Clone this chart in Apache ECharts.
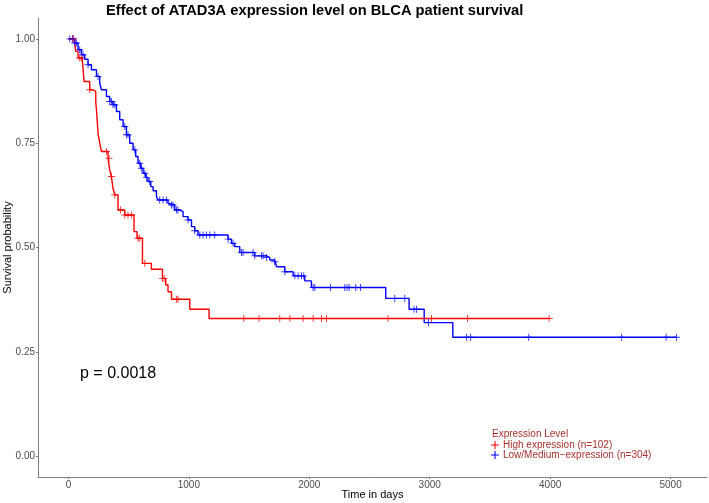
<!DOCTYPE html>
<html>
<head>
<meta charset="utf-8">
<script src="https://cdn.jsdelivr.net/npm/echarts@6/dist/echarts.min.js"></script>
<style>html,body{margin:0;padding:0;background:#fff}#c{width:709px;height:503px}</style>
</head>
<body>
<div id="c"></div>
<script>
// ---- data ----
const xTicks = [0, 1000, 2000, 3000, 4000, 5000];
const yTicks = [0, 0.25, 0.5, 0.75, 1.0];
const seriesNames = ['High expression (n=102)', 'Low/Medium\u2212expression (n=304)'];

// High expression: step times (days) and survival after each step
const highTimes = [0, 52, 61, 80, 116, 130, 177, 204, 227, 233, 246, 260, 274, 329, 343, 357, 370, 385, 412, 468, 545, 570, 615, 689, 781, 808, 827, 856, 1008, 1168, 3992];
const highSurv  = [1.0, 0.99, 0.97, 0.954, 0.948, 0.898, 0.878, 0.874, 0.85, 0.83, 0.774, 0.75, 0.73, 0.714, 0.686, 0.67, 0.642, 0.626, 0.59, 0.578, 0.538, 0.522, 0.462, 0.448, 0.426, 0.41, 0.394, 0.376, 0.352, 0.33, 0.33];
const highCensor = [33, 44, 94, 108, 177, 316, 337, 357, 385, 432, 468, 495, 523, 578, 592, 634, 781, 794, 897, 910, 1456, 1583, 1755, 1839, 1949, 2032, 2101, 2143, 2654, 3015, 3314, 3992];

// Low/Medium expression
const lowTimes = [0, 52, 80, 108, 135, 163, 191, 233, 260, 274, 316, 343, 370, 399, 426, 454, 482, 509, 537, 559, 578, 601, 620, 642, 661, 684, 703, 731, 744, 827, 841, 883, 924, 952, 993, 1022, 1049, 1076, 1326, 1354, 1381, 1423, 1547, 1645, 1672, 1713, 1728, 1797, 1866, 1963, 2018, 2635, 2829, 2954, 3192, 5050];
const lowSurv  = [1.0, 0.99, 0.974, 0.962, 0.951, 0.938, 0.926, 0.91, 0.894, 0.878, 0.862, 0.85, 0.842, 0.826, 0.806, 0.79, 0.77, 0.75, 0.734, 0.718, 0.702, 0.69, 0.678, 0.668, 0.658, 0.646, 0.636, 0.622, 0.614, 0.606, 0.602, 0.59, 0.586, 0.574, 0.566, 0.55, 0.54, 0.53, 0.52, 0.51, 0.502, 0.488, 0.48, 0.476, 0.47, 0.466, 0.454, 0.442, 0.432, 0.42, 0.404, 0.378, 0.352, 0.32, 0.285, 0.285];
const lowCensor = [11, 38, 52, 66, 94, 121, 163, 246, 343, 357, 370, 385, 468, 482, 495, 551, 592, 606, 634, 648, 675, 758, 786, 814, 856, 869, 897, 910, 993, 1049, 1091, 1118, 1146, 1174, 1215, 1326, 1367, 1437, 1450, 1533, 1547, 1603, 1616, 1645, 1713, 1797, 1880, 1907, 1935, 1954, 2032, 2046, 2176, 2295, 2314, 2331, 2386, 2425, 2710, 2793, 2870, 2890, 2990, 3306, 3340, 3822, 4594, 4963, 5050];

const pText = 'p = 0.0018';
const legendTitle = 'Expression Level';
const titleText = 'Effect of ATAD3A expression level on BLCA patient survival';

// ---- build ----
function survAt(times, surv, t) {
  let v = surv[0];
  for (let i = 0; i < times.length; i++) { if (times[i] <= t) v = surv[i]; else break; }
  return v;
}
const pair = (ts, vs) => ts.map((t, i) => [t, vs[i]]);
const cens = (c, ts, vs) => c.map(t => [t, survAt(ts, vs, t)]);

const plus = 'path://M2.6,0h0.8v2.6h2.6v0.8h-2.6v2.6h-0.8v-2.6h-2.6v-0.8h2.6z';
const FONT = '"Liberation Sans", Arial, Helvetica, sans-serif';
const RED = '#ff0000', BLUE = '#0000ff', LEG = '#a8302c';

const chart = echarts.init(document.getElementById('c'), null, {renderer: 'canvas'});
chart.setOption({
  animation: false,
  backgroundColor: '#ffffff',
  textStyle: {fontFamily: FONT},
  title: {
    text: titleText, left: 106, top: 3, padding: 0,
    textStyle: {fontSize: 14.7, fontWeight: 'bold', color: '#000', fontFamily: FONT}
  },
  grid: {left: 38, right: 2, top: 18, bottom: 26, containLabel: false, outerBoundsMode: 'none'},
  xAxis: {
    type: 'value', min: -252.5, max: 5302.5,
    name: 'Time in days', nameLocation: 'middle', nameGap: 12, nameMoveOverlap: false,
    nameTextStyle: {fontSize: 11, color: '#000', fontFamily: FONT},
    axisLine: {onZero: false, lineStyle: {color: '#7f7f7f', width: 1}},
    axisTick: {show: true, length: 2, customValues: xTicks, lineStyle: {color: '#7f7f7f'}},
    axisLabel: {customValues: xTicks, fontSize: 10, color: '#4d4d4d', margin: 3, fontFamily: FONT,
      formatter: v => String(v)},
    splitLine: {show: false}
  },
  yAxis: {
    type: 'value', min: -0.05, max: 1.05,
    name: 'Survival probability', nameLocation: 'middle', nameGap: 25, nameRotate: 90, nameMoveOverlap: false,
    nameTextStyle: {fontSize: 11, color: '#000', fontFamily: FONT},
    axisLine: {show: true, onZero: false, lineStyle: {color: '#7f7f7f', width: 1}},
    axisTick: {show: true, length: 2, customValues: yTicks, lineStyle: {color: '#7f7f7f'}},
    axisLabel: {customValues: yTicks, fontSize: 10, color: '#4d4d4d', margin: 3, fontFamily: FONT,
      formatter: v => v.toFixed(2)},
    splitLine: {show: false}
  },
  legend: {
    data: [{name: seriesNames[0], icon: plus}, {name: seriesNames[1], icon: plus}],
    orient: 'vertical', left: 491, top: 440, padding: 0, itemGap: 0,
    itemWidth: 8, itemHeight: 8,
    textStyle: {fontSize: 10, lineHeight: 10, color: LEG, fontFamily: FONT, padding: [0,0,0,-1]}
  },
  graphic: [
    {type: 'text', left: 80, top: 366, style: {text: pText, fill: '#000', font: '16px ' + FONT}},
    {type: 'text', left: 492, top: 429, style: {text: legendTitle, fill: LEG, font: '10px ' + FONT}}
  ],
  series: [
    {name: seriesNames[0], type: 'line', step: 'end', data: pair(highTimes, highSurv), showSymbol: false,
      lineStyle: {color: RED, width: 1.4}, itemStyle: {color: RED}, z: 3},
    {name: seriesNames[1], type: 'line', step: 'end', data: pair(lowTimes, lowSurv), showSymbol: false,
      lineStyle: {color: BLUE, width: 1.4}, itemStyle: {color: BLUE}, z: 2},
    {name: seriesNames[0], type: 'scatter', data: cens(highCensor, highTimes, highSurv), symbol: plus,
      symbolSize: 7, itemStyle: {color: RED, opacity: 0.8}, z: 4},
    {name: seriesNames[1], type: 'scatter', data: cens(lowCensor, lowTimes, lowSurv), symbol: plus,
      symbolSize: 7, itemStyle: {color: BLUE, opacity: 0.8}, z: 4}
  ]
});
</script>
</body>
</html>
